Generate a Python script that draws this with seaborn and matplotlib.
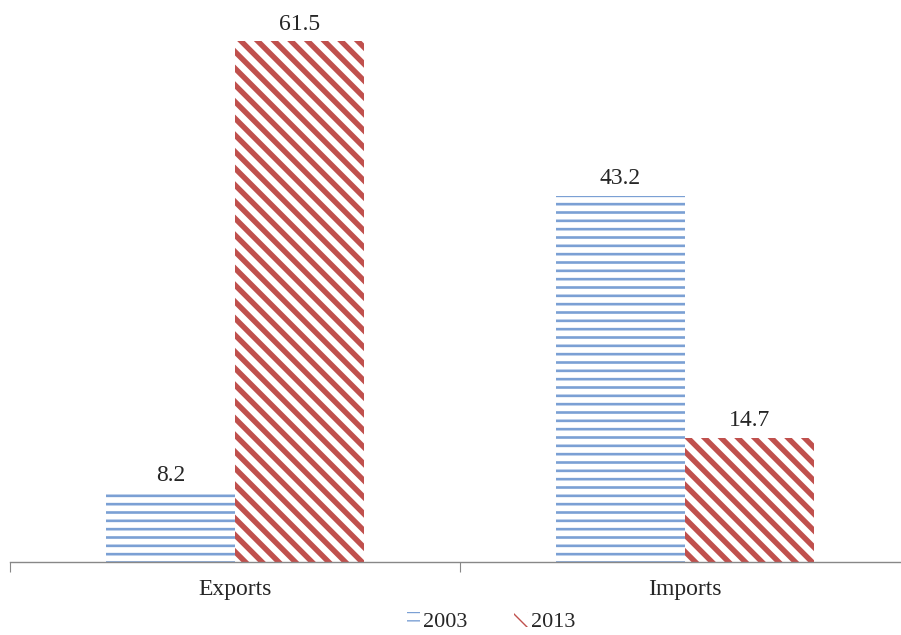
import matplotlib
matplotlib.use("Agg")
import matplotlib.pyplot as plt
import pandas as pd
import seaborn as sns

categories = ["Exports", "Imports"]
years = ["2003", "2013"]
values_2003 = [8.2, 43.2]
values_2013 = [61.5, 14.7]

df = pd.DataFrame({
    "flow": categories * 2,
    "year": [years[0]] * 2 + [years[1]] * 2,
    "value": values_2003 + values_2013,
})

sns.set_style("white")
plt.rcParams["font.family"] = ["Liberation Serif", "DejaVu Serif"]

fig = plt.figure(figsize=(9.01, 6.35), dpi=100)
ax = fig.add_axes([10 / 901, 73 / 635, 891 / 901, 562 / 635])

sns.barplot(data=df, x="flow", y="value", hue="year", order=categories,
            hue_order=years, width=0.573, gap=0, ax=ax, legend=False)

# 2003: blue horizontal hatch, 2013: red diagonal stripes
styles = {"2003": ("#7BA0D4", "--", 1.9), "2013": ("#C0504D", "\\\\", 3.9)}
for cont, yr in zip(ax.containers, years):
    col, hatch, lw = styles[yr]
    for bar in cont:
        bar.set_facecolor("white")
        bar.set_edgecolor(col)
        bar.set_linewidth(0)
        bar.set_hatch(hatch)
        if hasattr(bar, "set_hatch_linewidth"):
            bar.set_hatch_linewidth(lw)
    ax.bar_label(cont, fmt="%.1f", padding=5, fontsize=17)

ax.set_yticks([])
ax.set_xlabel("")
ax.set_ylabel("")
for s in ["left", "right", "top"]:
    ax.spines[s].set_visible(False)
ax.spines["bottom"].set_color("#888888")
ax.spines["bottom"].set_linewidth(1)

ax.set_xticks([-0.5, 0.5, 1.5])
ax.set_xticklabels([])
ax.tick_params(axis="x", which="major", direction="out", length=7, color="#888888", bottom=True)
ax.set_xticks([0, 1], minor=True)
ax.set_xticklabels(categories, minor=True, fontsize=17)
ax.tick_params(axis="x", which="minor", length=0, pad=12)

ax.set_ylim(0, 66.4)
ax.set_xlim(-0.5, 1.48)

handles = [ax.containers[0][0], ax.containers[1][0]]
ax.legend(handles, years, loc="lower center", bbox_to_anchor=(0.54, -0.145),
          ncol=2, frameon=False, fontsize=16, handlelength=0.6, handleheight=0.6,
          handletextpad=0.15, columnspacing=2.1, borderpad=0)

fig.savefig("out.png", dpi=100)
